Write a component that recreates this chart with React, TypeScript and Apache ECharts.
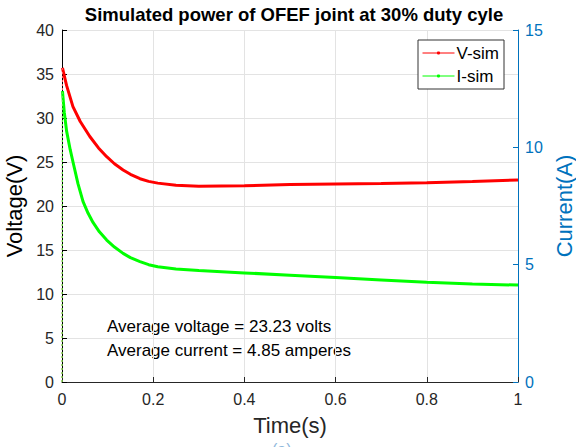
import React, { useEffect, useRef } from "react";
import * as echarts from "echarts";

const titleText = "Simulated power of OFEF joint at 30% duty cyle";
const xTicks = [0, 0.2, 0.4, 0.6, 0.8, 1];

const vTime = [0, 0.001, 0.01, 0.024, 0.04, 0.061, 0.08, 0.098, 0.115, 0.134, 0.15, 0.171, 0.19, 0.21, 0.25, 0.3, 0.4, 0.5, 0.6, 0.7, 0.8, 0.9, 1.0];
const vSim = [0, 35.7, 33.7, 31.3, 29.6, 27.9, 26.6, 25.6, 24.8, 24.1, 23.6, 23.1, 22.8, 22.6, 22.35, 22.25, 22.3, 22.45, 22.5, 22.55, 22.65, 22.78, 22.95];

const iTime = [0, 0.001, 0.005, 0.01, 0.018, 0.025, 0.035, 0.046, 0.057, 0.068, 0.082, 0.098, 0.115, 0.134, 0.15, 0.171, 0.19, 0.21, 0.25, 0.3, 0.4, 0.5, 0.6, 0.7, 0.8, 0.9, 1.0];
const iSim = [0, 12.4, 11.5, 10.7, 9.9, 9.3, 8.45, 7.7, 7.2, 6.8, 6.4, 6.05, 5.75, 5.48, 5.3, 5.13, 5.0, 4.91, 4.82, 4.75, 4.65, 4.55, 4.45, 4.35, 4.25, 4.18, 4.13];

const notes = ["Average voltage = 23.23 volts", "Average current = 4.85 amperes"];
const figLabel = "(a)";

const FONT = "Liberation Sans, Arial, Helvetica, sans-serif";
const BLUE = "#0072BD";
const AX = "#262626";
const GRID = "#e3e3e3";

export default function App() {
  const ref = useRef<HTMLDivElement>(null);
  useEffect(() => {
    if (!ref.current) return;
    const chart = echarts.init(ref.current, null, { renderer: "svg" });
    chart.setOption({
      animation: false,
      backgroundColor: "#ffffff",
      textStyle: { fontFamily: FONT },
      title: {
        text: titleText,
        left: 289,
        textAlign: "center",
        top: 0,
        textStyle: { fontFamily: FONT, fontSize: 18.5, fontWeight: "bold", color: "#000" },
      },
      legend: {
        orient: "vertical",
        right: 72,
        top: 40,
        backgroundColor: "#fff",
        borderColor: "#333",
        borderWidth: 1,
        borderRadius: 0,
        padding: [4, 5, 4, 4],
        itemWidth: 32,
        itemHeight: 4,
        itemGap: 5,
        textStyle: { fontFamily: FONT, fontSize: 17, lineHeight: 18, color: "#000", padding: [0, 0, 0, -3] },
        lineStyle: { width: 1 },
        data: ["V-sim", "I-sim"],
      },
      grid: { left: 62, right: 58, top: 30, bottom: 65, containLabel: false, outerBoundsMode: "none" },
      xAxis: {
        type: "value",
        min: 0,
        max: 1,
        interval: 0.2,
        name: "Time(s)",
        nameLocation: "middle",
        nameGap: 32,
        nameTextStyle: { fontFamily: FONT, fontSize: 22, color: AX },
        axisLine: { show: true, lineStyle: { color: AX } },
        axisTick: { show: true, inside: true, length: 5, lineStyle: { color: AX } },
        axisLabel: {
          fontFamily: FONT,
          fontSize: 16,
          color: AX,
          margin: 9,
          formatter: (v: number) => String(Math.round(v * 10) / 10),
        },
        splitLine: { show: true, lineStyle: { color: GRID } },
        data: xTicks,
      },
      yAxis: [
        {
          type: "value",
          min: 0,
          max: 40,
          interval: 5,
          name: "Voltage(V)",
          nameLocation: "middle",
          nameGap: 36,
          nameTextStyle: { fontFamily: FONT, fontSize: 22, color: "#000" },
          axisLine: { show: true, lineStyle: { color: "#000" } },
          axisTick: { show: true, inside: true, length: 5, lineStyle: { color: "#000" } },
          axisLabel: { fontFamily: FONT, fontSize: 16, color: AX, margin: 8 },
          splitLine: { show: true, lineStyle: { color: GRID } },
        },
        {
          type: "value",
          position: "right",
          min: 0,
          max: 15,
          interval: 5,
          name: "Current(A)",
          nameLocation: "middle",
          nameGap: 34,
          nameRotate: 90,
          nameTextStyle: { fontFamily: FONT, fontSize: 22, color: BLUE },
          axisLine: { show: true, lineStyle: { color: BLUE } },
          axisTick: { show: true, inside: true, length: 5, lineStyle: { color: BLUE } },
          axisLabel: { fontFamily: FONT, fontSize: 16, color: BLUE, margin: 7 },
          splitLine: { show: false },
        },
      ],
      series: [
        {
          name: "V-sim",
          type: "line",
          yAxisIndex: 0,
          data: vTime.slice(1).map((t, i) => [t, vSim[i + 1]]),
          color: "#ff0000",
          symbol: "circle",
          symbolSize: 3,
          showSymbol: false,
          smooth: false,
          lineStyle: { width: 3, color: "#ff0000" },
          z: 4,
        },
        {
          name: "I-sim",
          type: "line",
          yAxisIndex: 1,
          data: iTime.slice(1).map((t, i) => [t, iSim[i + 1]]),
          color: "#00ff00",
          symbol: "circle",
          symbolSize: 3,
          showSymbol: false,
          smooth: false,
          lineStyle: { width: 3, color: "#00ff00" },
          z: 3,
        },
        {
          name: "V-rise",
          type: "line",
          yAxisIndex: 0,
          data: vTime.slice(0, 2).map((t, i) => [t, vSim[i]]),
          symbol: "none",
          lineStyle: { width: 1, color: "#ff6060", type: [2, 2] },
          z: 5,
        },
        {
          name: "I-rise",
          type: "line",
          yAxisIndex: 1,
          data: iTime.slice(0, 2).map((t, i) => [t, iSim[i]]),
          symbol: "none",
          lineStyle: { width: 1, color: "#40ff40", type: [2, 2] },
          z: 5,
        },
      ],
      graphic: [
        {
          type: "text",
          left: 107,
          top: 318,
          style: { text: notes[0], fontFamily: FONT, fontSize: 17, fill: "#000" },
        },
        {
          type: "text",
          left: 107,
          top: 342,
          style: { text: notes[1], fontFamily: FONT, fontSize: 17, fill: "#000" },
        },
        {
          type: "text",
          left: 272,
          top: 441,
          style: { text: figLabel, fontFamily: FONT, fontSize: 16, fill: "#8fb8dc" },
        },
      ],
    });
    return () => chart.dispose();
  }, []);
  return <div ref={ref} style={{ width: 576, height: 447, position: "absolute", left: 0, top: 0 }} />;
}
